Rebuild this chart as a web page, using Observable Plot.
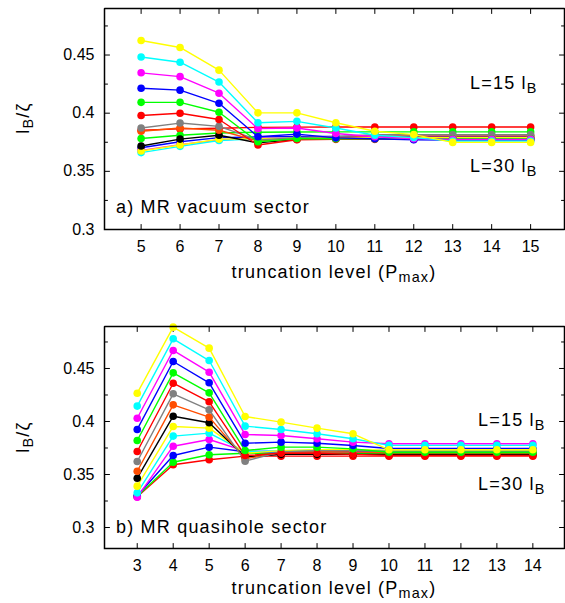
<!DOCTYPE html>
<html>
<head>
<meta charset="utf-8">
<script src="https://cdn.jsdelivr.net/npm/d3@7"></script>
<script src="https://cdn.jsdelivr.net/npm/@observablehq/plot@0.6"></script>
<style>
  html, body { margin: 0; padding: 0; background: #fff; }
  #chart svg { display: block; }
</style>
</head>
<body>
<div id="chart"></div>
<script>
// ---------- data ----------
const topP = [5, 6, 7, 8, 9, 10, 11, 12, 13, 14, 15];
const botP = [3, 4, 5, 6, 7, 8, 9, 10, 11, 12, 13, 14];

const seriesColors = ["#ff0000", "#00ff00", "#0000ff", "#ff00ff", "#00ffff", "#ffff00",
  "#000000", "#ff4d00", "#808080", "#ff0000", "#00ff00", "#0000ff", "#ff00ff", "#00ffff", "#ffff00"];

// panel a) MR vacuum sector, one array per series (x = 5..15)
const vac0  = [0.3853, 0.3865, 0.3870, 0.3878, 0.3880, 0.3881, 0.3881, 0.3881, 0.3881, 0.3881, 0.3881];
const vac1  = [0.3782, 0.3810, 0.3830, 0.3836, 0.3838, 0.3839, 0.3839, 0.3839, 0.3839, 0.3839, 0.3839];
const vac2  = [0.3703, 0.3754, 0.3790, 0.3795, 0.3800, 0.3800, 0.3800, 0.3800, 0.3800, 0.3800, 0.3800];
const vac3  = [0.3680, 0.3730, 0.3770, 0.3785, 0.3790, 0.3792, 0.3792, 0.3792, 0.3792, 0.3792, 0.3792];
const vac4  = [0.3661, 0.3715, 0.3765, 0.3780, 0.3785, 0.3787, 0.3787, 0.3787, 0.3787, 0.3787, 0.3787];
const vac5  = [0.3675, 0.3726, 0.3777, 0.3780, 0.3785, 0.3790, 0.3790, 0.3790, 0.3790, 0.3790, 0.3790];
const vac6  = [0.3718, 0.3777, 0.3810, 0.3745, 0.3775, 0.3780, 0.3780, 0.3780, 0.3780, 0.3780, 0.3780];
const vac7  = [0.3845, 0.3873, 0.3853, 0.3760, 0.3780, 0.3790, 0.3805, 0.3805, 0.3805, 0.3805, 0.3805];
const vac8  = [0.3873, 0.3915, 0.3887, 0.3770, 0.3790, 0.3800, 0.3815, 0.3815, 0.3815, 0.3815, 0.3815];
const vac9  = [0.3980, 0.4000, 0.3946, 0.3726, 0.3772, 0.3775, 0.3775, 0.3775, 0.3775, 0.3775, 0.3775];
const vac10 = [0.4093, 0.4093, 0.4008, 0.3754, 0.3782, 0.3780, 0.3780, 0.3780, 0.3780, 0.3780, 0.3780];
const vac11 = [0.4214, 0.4198, 0.4085, 0.3797, 0.3820, 0.3788, 0.3780, 0.3772, 0.3770, 0.3770, 0.3770];
const vac12 = [0.4347, 0.4314, 0.4172, 0.3867, 0.3873, 0.3825, 0.3797, 0.3780, 0.3775, 0.3775, 0.3775];
const vac13 = [0.4483, 0.4438, 0.4268, 0.3918, 0.3930, 0.3873, 0.3810, 0.3790, 0.3760, 0.3760, 0.3760];
const vac14 = [0.4625, 0.4565, 0.4370, 0.4003, 0.4003, 0.3918, 0.3845, 0.3816, 0.3749, 0.3749, 0.3749];

// panel b) MR quasihole sector, one array per series (x = 3..14)
const qh0  = [0.3290, 0.3592, 0.3639, 0.3673, 0.3673, 0.3673, 0.3673, 0.3673, 0.3673, 0.3673, 0.3673, 0.3673];
const qh1  = [0.3295, 0.3616, 0.3686, 0.3700, 0.3700, 0.3700, 0.3700, 0.3700, 0.3700, 0.3700, 0.3700, 0.3700];
const qh2  = [0.3300, 0.3679, 0.3758, 0.3715, 0.3715, 0.3715, 0.3715, 0.3715, 0.3715, 0.3715, 0.3715, 0.3715];
const qh3  = [0.3286, 0.3767, 0.3830, 0.3720, 0.3720, 0.3725, 0.3725, 0.3725, 0.3725, 0.3725, 0.3725, 0.3725];
const qh4  = [0.3327, 0.3862, 0.3890, 0.3715, 0.3725, 0.3730, 0.3730, 0.3728, 0.3728, 0.3728, 0.3728, 0.3728];
const qh5  = [0.3390, 0.3953, 0.3937, 0.3700, 0.3725, 0.3735, 0.3735, 0.3730, 0.3730, 0.3730, 0.3730, 0.3730];
const qh6  = [0.3465, 0.4050, 0.3988, 0.3664, 0.3690, 0.3690, 0.3690, 0.3690, 0.3690, 0.3690, 0.3690, 0.3690];
const qh7  = [0.3531, 0.4157, 0.4041, 0.3647, 0.3710, 0.3715, 0.3712, 0.3705, 0.3705, 0.3705, 0.3705, 0.3705];
const qh8  = [0.3623, 0.4261, 0.4110, 0.3626, 0.3715, 0.3725, 0.3725, 0.3720, 0.3720, 0.3720, 0.3720, 0.3720];
const qh9  = [0.3717, 0.4361, 0.4186, 0.3679, 0.3700, 0.3700, 0.3690, 0.3680, 0.3680, 0.3680, 0.3680, 0.3680];
const qh10 = [0.3821, 0.4459, 0.4270, 0.3726, 0.3758, 0.3758, 0.3742, 0.3710, 0.3710, 0.3710, 0.3710, 0.3710];
const qh11 = [0.3925, 0.4566, 0.4365, 0.3795, 0.3805, 0.3795, 0.3774, 0.3745, 0.3745, 0.3745, 0.3745, 0.3745];
const qh12 = [0.4031, 0.4670, 0.4465, 0.3877, 0.3868, 0.3837, 0.3805, 0.3790, 0.3790, 0.3790, 0.3790, 0.3790];
const qh13 = [0.4145, 0.4780, 0.4575, 0.3956, 0.3925, 0.3884, 0.3837, 0.3775, 0.3775, 0.3775, 0.3775, 0.3775];
const qh14 = [0.4267, 0.4890, 0.4692, 0.4047, 0.3994, 0.3937, 0.3884, 0.3733, 0.3733, 0.3733, 0.3733, 0.3733];

const vacSeries = [vac0, vac1, vac2, vac3, vac4, vac5, vac6, vac7, vac8, vac9, vac10, vac11, vac12, vac13, vac14];
const qhSeries  = [qh0, qh1, qh2, qh3, qh4, qh5, qh6, qh7, qh8, qh9, qh10, qh11, qh12, qh13, qh14];

const yMajorTicks = [0.3, 0.35, 0.4, 0.45];
const yMinorTicks = [0.325, 0.375, 0.425, 0.475];
const yTickLabels = ["0.3", "0.35", "0.4", "0.45"];

// ---------- drawing ----------
const FONT = "'Liberation Sans', Arial, Helvetica, sans-serif";
const W = 565;
// a tick drawn as a plain path segment of length l
const tickShape = {draw(ctx, l) { ctx.moveTo(0, 0); ctx.lineTo(0, -l); }};

function panel({P, series, xDomain, yDomain, height, marginTop, marginBottom}) {
  const marginLeft = 104, marginRight = 1;
  const major = 5, minor = 3;
  const tk = {shape: tickShape, anchor: "start", stroke: "black", strokeWidth: 1};
  const border = [
    {x: xDomain[0], y: yDomain[0]}, {x: xDomain[1], y: yDomain[0]},
    {x: xDomain[1], y: yDomain[1]}, {x: xDomain[0], y: yDomain[1]},
    {x: xDomain[0], y: yDomain[0]}
  ];
  const marks = [
    Plot.vector(P, {x: d => d, frameAnchor: "bottom", rotate: 0, length: major, ...tk}),
    Plot.vector(P, {x: d => d, frameAnchor: "top", rotate: 180, length: major, ...tk}),
    Plot.vector(yMajorTicks, {y: d => d, frameAnchor: "left", rotate: 90, length: major, ...tk}),
    Plot.vector(yMajorTicks, {y: d => d, frameAnchor: "right", rotate: -90, length: major, ...tk}),
    Plot.vector(yMinorTicks, {y: d => d, frameAnchor: "left", rotate: 90, length: minor, ...tk}),
    Plot.vector(yMinorTicks, {y: d => d, frameAnchor: "right", rotate: -90, length: minor, ...tk}),
    Plot.axisX(P, {tickSize: 0, tickPadding: 11, fontSize: 16, label: null}),
    Plot.axisY(yMajorTicks, {tickSize: 0, tickPadding: 10, fontSize: 16, label: null,
      tickFormat: d => yTickLabels[yMajorTicks.indexOf(d)]})
  ];
  series.forEach((vals, i) => {
    const rows = P.map((p, j) => ({p, v: vals[j]}));
    marks.push(Plot.line(rows, {x: "p", y: "v", stroke: seriesColors[i], strokeWidth: 1.4}));
    marks.push(Plot.dot(rows, {x: "p", y: "v", r: 3.8, fill: seriesColors[i], stroke: "none"}));
  });
  marks.push(Plot.line(border, {x: "x", y: "y", stroke: "black", strokeWidth: 1.5, strokeLinejoin: "miter", strokeLinecap: "square"}));
  return Plot.plot({
    width: W, height, marginLeft, marginRight, marginTop, marginBottom,
    style: {fontFamily: FONT, color: "black", background: "white", overflow: "visible"},
    x: {domain: xDomain},
    y: {domain: yDomain},
    marks
  });
}

function sub(sel, main, subText, after, size) {
  sel.append("tspan").text(main);
  sel.append("tspan").attr("baseline-shift", "-28%").attr("font-size", size * 0.8).text(subText);
  if (after) sel.append("tspan").text(after);
}

function label(s, fs) {
  return s.append("text").attr("font-family", FONT).attr("font-size", fs)
    .attr("fill", "black").attr("letter-spacing", 1.2);
}

function annotate(svg, o) {
  const s = d3.select(svg);
  const fs = 18;
  const yl = label(s, fs).attr("text-anchor", "middle")
    .attr("transform", `translate(29,${o.yLabelY}) rotate(-90)`);
  sub(yl, "l", "B", "/ζ", fs);
  const xl = label(s, fs).attr("text-anchor", "middle").attr("x", 334).attr("y", o.xLabelY);
  sub(xl, "truncation level (P", "max", ")", fs);
  label(s, fs).attr("text-anchor", "start").attr("x", 116).attr("y", o.titleY).text(o.title);
  const l1 = label(s, fs).attr("text-anchor", "start").attr("x", o.lx).attr("y", o.l15Y);
  sub(l1, "L=15 l", "B", null, fs);
  const l2 = label(s, fs).attr("text-anchor", "start").attr("x", o.lx).attr("y", o.l30Y);
  sub(l2, "L=30 l", "B", null, fs);
}

const chartDiv = document.getElementById("chart");

const panelA = panel({P: topP, series: vacSeries, xDomain: [4.06, 15.87], yDomain: [0.3, 0.49],
  height: 300, marginTop: 8, marginBottom: 71});
annotate(panelA, {yLabelY: 118, xLabelY: 278, title: "a) MR vacuum sector", titleY: 213,
  lx: 470, l15Y: 89, l30Y: 172});
chartDiv.appendChild(panelA);

const panelB = panel({P: botP, series: qhSeries, xDomain: [2.09, 14.88], yDomain: [0.2802, 0.4896],
  height: 303, marginTop: 26, marginBottom: 55});
annotate(panelB, {yLabelY: 137, xLabelY: 294, title: "b) MR quasihole sector", titleY: 233,
  lx: 478, l15Y: 126, l30Y: 190});
chartDiv.appendChild(panelB);
</script>
</body>
</html>
